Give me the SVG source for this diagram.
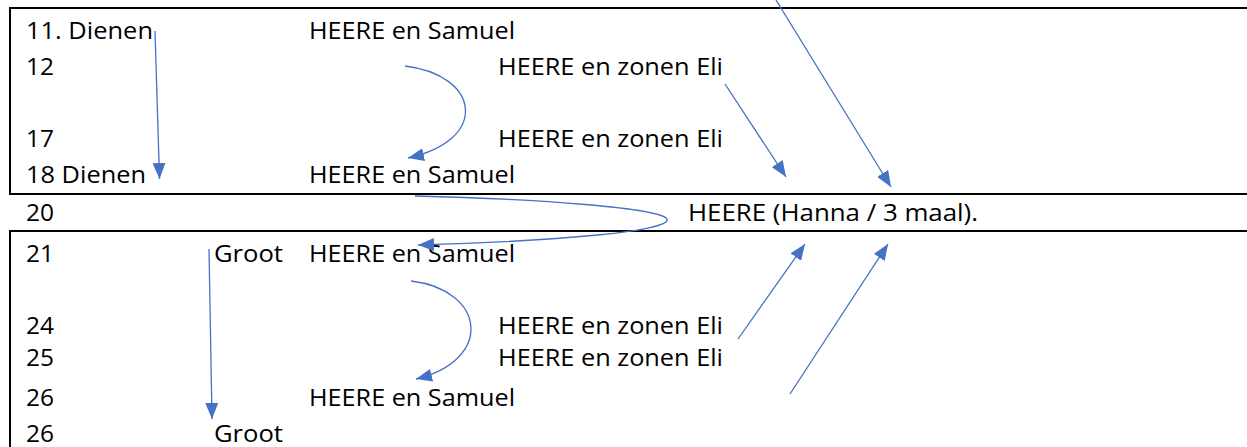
<svg xmlns="http://www.w3.org/2000/svg" width="1247" height="447" viewBox="0 0 1247 447">
<style>
text{font-family:"Open Sans","Noto Sans","Liberation Sans",sans-serif;font-size:23.5px;fill:#000;}
.frame{stroke:#000;stroke-width:2;fill:none;}
.conn{stroke:#4472C4;stroke-width:1.3;fill:none;marker-end:url(#ah);}
</style>
<defs>
<marker id="ah" markerUnits="userSpaceOnUse" markerWidth="17" markerHeight="13" refX="16" refY="6.5" orient="auto">
<path d="M0,0 L16,6.5 L0,13 Z" fill="#4472C4"/>
</marker>
</defs>
<rect width="1247" height="447" fill="#fff"/>
<g id="frames">
<path class="frame" d="M10,8 H1247 M10,194 H1247 M10,7 V195 M10,231 H1247 M10,230 V447"/>
</g>
<g id="row11"><text x="26" y="39" textLength="127" lengthAdjust="spacingAndGlyphs">11. Dienen</text><text x="309" y="39" textLength="206" lengthAdjust="spacingAndGlyphs">HEERE en Samuel</text></g>
<g id="row12"><text x="26" y="75" textLength="28" lengthAdjust="spacingAndGlyphs">12</text><text x="498" y="75" textLength="225" lengthAdjust="spacingAndGlyphs">HEERE en zonen Eli</text></g>
<g id="row17"><text x="26" y="147" textLength="28" lengthAdjust="spacingAndGlyphs">17</text><text x="498" y="147" textLength="225" lengthAdjust="spacingAndGlyphs">HEERE en zonen Eli</text></g>
<g id="row18"><text x="26" y="183" textLength="120" lengthAdjust="spacingAndGlyphs">18 Dienen</text><text x="309" y="183" textLength="206" lengthAdjust="spacingAndGlyphs">HEERE en Samuel</text></g>
<g id="row20"><text x="26" y="221" textLength="28" lengthAdjust="spacingAndGlyphs">20</text><text x="688" y="221" textLength="290" lengthAdjust="spacingAndGlyphs">HEERE (Hanna / 3 maal).</text></g>
<g id="row21"><text x="26" y="262" textLength="28" lengthAdjust="spacingAndGlyphs">21</text><text x="214" y="262" textLength="69" lengthAdjust="spacingAndGlyphs">Groot</text><text x="309" y="262" textLength="206" lengthAdjust="spacingAndGlyphs">HEERE en Samuel</text></g>
<g id="row24"><text x="26" y="334" textLength="28" lengthAdjust="spacingAndGlyphs">24</text><text x="498" y="334" textLength="225" lengthAdjust="spacingAndGlyphs">HEERE en zonen Eli</text></g>
<g id="row25"><text x="26" y="366" textLength="28" lengthAdjust="spacingAndGlyphs">25</text><text x="498" y="366" textLength="225" lengthAdjust="spacingAndGlyphs">HEERE en zonen Eli</text></g>
<g id="row26a"><text x="26" y="406" textLength="28" lengthAdjust="spacingAndGlyphs">26</text><text x="309" y="406" textLength="206" lengthAdjust="spacingAndGlyphs">HEERE en Samuel</text></g>
<g id="row26b"><text x="26" y="442" textLength="28" lengthAdjust="spacingAndGlyphs">26</text><text x="214" y="442" textLength="69" lengthAdjust="spacingAndGlyphs">Groot</text></g>
<g id="connectors">
<path class="conn" d="M155,31 L159.5,179"/>
<path class="conn" d="M405,66 C480,75 490,140 408,158"/>
<path class="conn" d="M415,196 C540,199 660,208 667,219 C672,231 560,241 418,245"/>
<path class="conn" d="M776,0 L891,187"/>
<path class="conn" d="M725,84 L786,177"/>
<path class="conn" d="M738,339 L805,244"/>
<path class="conn" d="M790,394 L888,244"/>
<path class="conn" d="M411,281 C486,290 494,360 416,379"/>
<path class="conn" d="M209,249 L212,419"/>
</g>
</svg>
